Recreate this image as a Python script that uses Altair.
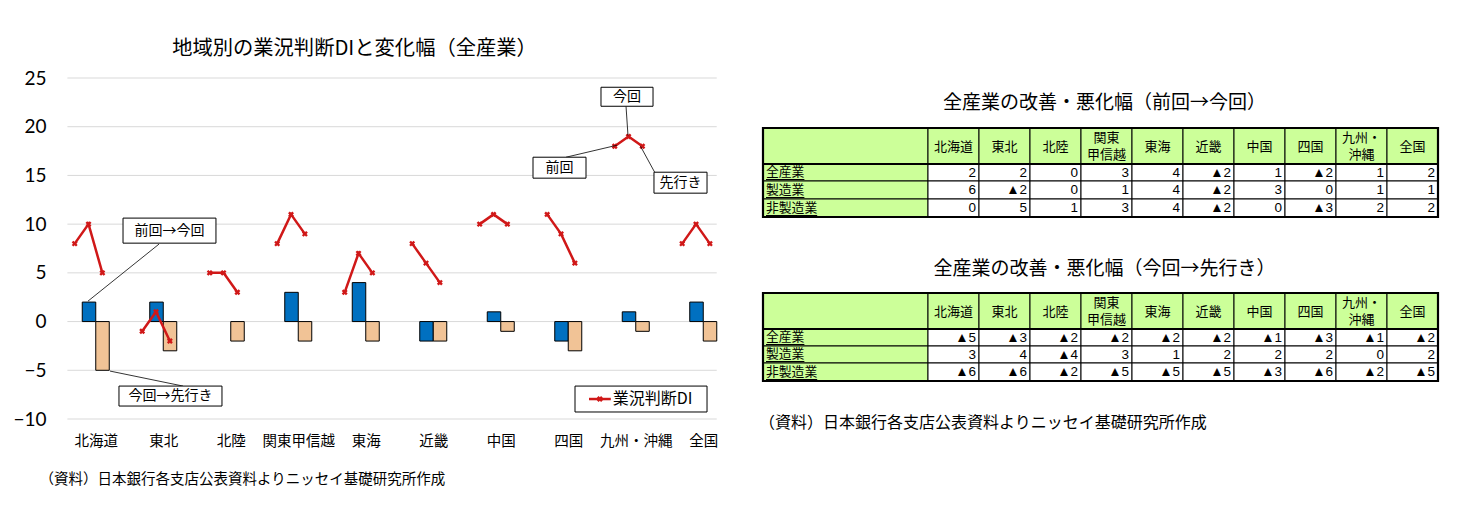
import altair as alt
import pandas as pd

# ---------------- data ----------------
regions = ["北海道", "東北", "北陸", "関東甲信越", "東海", "近畿", "中国", "四国", "九州・沖縄", "全国"]
di_prev = [8, -1, 5, 8, 3, 8, 10, 11, 18, 8]
di_now = [10, 1, 5, 11, 7, 6, 11, 9, 19, 10]
di_next = [5, -2, 3, 9, 5, 4, 10, 6, 18, 8]
chg_prev_now = [2, 2, 0, 3, 4, -2, 1, -2, 1, 2]
chg_now_next = [-5, -3, -2, -2, -2, -2, -1, -3, -1, -2]
y_ticks = [-10, -5, 0, 5, 10, 15, 20, 25]

table_cols = ["北海道", "東北", "北陸", "関東\n甲信越", "東海", "近畿", "中国", "四国", "九州・\n沖縄", "全国"]
table_rows = ["全産業", "製造業", "非製造業"]
t1_all = [2, 2, 0, 3, 4, -2, 1, -2, 1, 2]
t1_mfg = [6, -2, 0, 1, 4, -2, 3, 0, 1, 1]
t1_non = [0, 5, 1, 3, 4, -2, 0, -3, 2, 2]
t2_all = [-5, -3, -2, -2, -2, -2, -1, -3, -1, -2]
t2_mfg = [3, 4, -4, 3, 1, 2, 2, 2, 0, 2]
t2_non = [-6, -6, -2, -5, -5, -5, -3, -6, -2, -5]

title_left = "地域別の業況判断DIと変化幅（全産業）"
title_t1 = "全産業の改善・悪化幅（前回→今回）"
title_t2 = "全産業の改善・悪化幅（今回→先行き）"
source_note = "（資料）日本銀行各支店公表資料よりニッセイ基礎研究所作成"
legend_label = "業況判断DI"

JP = "Noto Sans CJK JP"
RED = "#D01818"
BLUE = "#0070C0"
ORANGE = "#F1C396"
GREEN = "#CCFF99"

# ---------------- left chart ----------------
LW, LH = 675, 341
n = len(regions)
label_expr = "[" + ",".join("'%s'" % r for r in regions) + "][datum.value]"

xs = alt.Scale(domain=[-0.5, n - 0.5], nice=False, zero=False)
ys = alt.Scale(domain=[-10, 25], nice=False, zero=False)
x_axis = alt.Axis(values=list(range(n)), labelExpr=label_expr, ticks=False, domain=False, grid=False,
                  labelFont=JP, labelFontSize=14.5, labelColor="#000", labelPadding=15,
                  title=source_note, titleFont=JP, titleFontSize=14.5, titleFontWeight="normal",
                  titleColor="#000", titleX=-23, titleY=60, titleAlign="left", titleBaseline="middle")
y_axis = alt.Axis(values=y_ticks, ticks=False, domain=False, grid=False, labelFont="Lato",
                  labelFontSize=19, labelColor="#000", labelPadding=16, title=None)


def X(f="x"):
    return alt.X(f + ":Q", scale=xs, axis=x_axis)


def Y(f="y"):
    return alt.Y(f + ":Q", scale=ys, axis=y_axis)


grid_df = pd.DataFrame({"y": y_ticks, "x": -0.42, "x2": 9.2})
grid = alt.Chart(grid_df).mark_rule(color="#D9D9D9", strokeWidth=1).encode(
    x=X(), x2="x2:Q", y=Y())

bar_w = 0.2
blue_df = pd.DataFrame({"x": [i - bar_w for i in range(n)], "x2": list(range(n)),
                        "y": 0, "y2": chg_prev_now})
orange_df = pd.DataFrame({"x": list(range(n)), "x2": [i + bar_w for i in range(n)],
                          "y": 0, "y2": chg_now_next})
blue_df = blue_df[blue_df["y2"] != 0]
bars_b = alt.Chart(blue_df).mark_rect(fill=BLUE, stroke="#000", strokeWidth=1).encode(
    x=X(), x2="x2:Q", y=Y(), y2="y2:Q")
bars_o = alt.Chart(orange_df).mark_rect(fill=ORANGE, stroke="#000", strokeWidth=1).encode(
    x=X(), x2="x2:Q", y=Y(), y2="y2:Q")

rows = []
for i, r in enumerate(regions):
    for k, v in zip((-1, 0, 1), (di_prev[i], di_now[i], di_next[i])):
        rows.append({"region": r, "x": i - 0.107 + 0.205 * k, "y": v, "k": k})
line_df = pd.DataFrame(rows)
line = alt.Chart(line_df).mark_line(color=RED, strokeWidth=2.5).encode(
    x=X(), y=Y(), detail="region:N", order="k:Q")
pts = alt.Chart(line_df).mark_point(shape="cross", angle=45, size=36, filled=True,
                                     color=RED, opacity=1).encode(x=X(), y=Y())

# callouts (positions in data units)
boxes = pd.DataFrame({
    "x": [0.404, 0.344, 7.485, 6.478, 8.27],
    "x2": [1.781, 1.87, 8.256, 7.263, 9.056],
    "y": [10.62, -6.62, 24.05, 16.87, 15.33],
    "y2": [8.05, -8.67, 22.1, 14.72, 13.18],
    "t": ["前回→今回", "今回→先行き", "今回", "前回", "先行き"],
})
boxes["cx"] = (boxes["x"] + boxes["x2"]) / 2
boxes["cy"] = (boxes["y"] + boxes["y2"]) / 2
leaders = pd.DataFrame({
    "x": [0.937, 0.211, 7.856, 6.967, 8.07],
    "y": [7.95, -5.08, 22.1, 16.87, 18.0],
    "x2": [-0.115, 1.293, 7.885, 7.722, 8.28],
    "y2": [2.1, -6.62, 19.1, 18.1, 15.33],
})
lead = alt.Chart(leaders).mark_rule(color="#000", strokeWidth=0.8).encode(
    x=X(), y=Y(), x2="x2:Q", y2="y2:Q")
box = alt.Chart(boxes).mark_rect(fill="white", stroke="#000", strokeWidth=1).encode(
    x=X(), x2="x2:Q", y=Y(), y2="y2:Q")
box_t = alt.Chart(boxes).mark_text(font=JP, fontSize=14, color="#000", baseline="middle").encode(
    x=X("cx"), y=Y("cy"), text="t:N")

# legend
leg_box = alt.Chart(pd.DataFrame({"x": [7.1], "x2": [9.056], "y": [-6.62], "y2": [-9.28]})).mark_rect(
    fill="white", stroke="#000", strokeWidth=1).encode(x=X(), x2="x2:Q", y=Y(), y2="y2:Q")
leg_line = alt.Chart(pd.DataFrame({"x": [7.307], "x2": [7.63], "y": [-7.95]})).mark_rule(
    color=RED, strokeWidth=2.5).encode(x=X(), x2="x2:Q", y=Y())
leg_pt = alt.Chart(pd.DataFrame({"x": [7.468], "y": [-7.95]})).mark_point(
    shape="cross", angle=45, size=36, filled=True, color=RED, opacity=1).encode(x=X(), y=Y())
leg_t = alt.Chart(pd.DataFrame({"x": [7.66], "y": [-7.95], "t": [legend_label]})).mark_text(
    font=JP, fontSize=16, color="#000", align="left", baseline="middle").encode(
    x=X(), y=Y(), text="t:N")

left = alt.layer(grid, bars_b, bars_o, line, pts, lead, box, box_t, leg_box, leg_line, leg_pt, leg_t).properties(
    width=LW, height=LH,
    title=alt.TitleParams(title_left, font=JP, fontSize=20.3, fontWeight="normal", color="#000",
                          anchor="middle", dx=-45, offset=10))

# ---------------- right chart (tables) ----------------
RW, RH = 675, 361
T0 = 79   # page y of the right panel top
X0 = 763  # page x of the right panel left
label_w, col_w = 165, 51
LINE_H = 16.5

rx = alt.Scale(domain=[0, RW], nice=False, zero=False)
ry = alt.Scale(domain=[0, RH], nice=False, zero=False, reverse=True)


def PX(f="x"):
    return alt.X(f + ":Q", scale=rx, axis=None)


def PY(f="y"):
    return alt.Y(f + ":Q", scale=ry, axis=None)


def table_layers(top, header_bot, row_bots, vals, title, title_y):
    cells, htxt, rtxt, vtxt, ul = [], [], [], [], []
    edges = [top, header_bot] + row_bots
    cells.append({"x": 0, "x2": label_w, "y": top, "y2": header_bot, "f": GREEN})
    for j, c in enumerate(table_cols):
        x0 = label_w + col_w * j
        cells.append({"x": x0, "x2": x0 + col_w, "y": top, "y2": header_bot, "f": GREEN})
        parts = c.split("\n")
        cy = (top + header_bot) / 2 + 0.5
        for p_i, part in enumerate(parts):
            off = (p_i - (len(parts) - 1) / 2) * LINE_H
            htxt.append({"x": x0 + col_w / 2, "y": cy + off, "t": part})
    for r, name in enumerate(table_rows):
        y0, y1 = edges[r + 1], edges[r + 2]
        cells.append({"x": 0, "x2": label_w, "y": y0, "y2": y1, "f": GREEN})
        rtxt.append({"x": 3, "y": (y0 + y1) / 2 - 0.5, "t": name})
        ul.append({"x": 3, "x2": 3 + 12.8 * len(name), "y": y1 - 1.5})
        for j, v in enumerate(vals[r]):
            x0 = label_w + col_w * j
            cells.append({"x": x0, "x2": x0 + col_w, "y": y0, "y2": y1, "f": "white"})
            vtxt.append({"x": x0 + col_w - 3, "y": (y0 + y1) / 2,
                         "t": ("▲%d" % abs(v)) if v < 0 else str(v)})
    return [
        alt.Chart(pd.DataFrame(cells)).mark_rect(stroke="#000", strokeWidth=1).encode(
            x=PX(), x2="x2:Q", y=PY(), y2="y2:Q", fill=alt.Fill("f:N", scale=None)),
        alt.Chart(pd.DataFrame([{"x": 0, "x2": RW, "y": top, "y2": edges[-1]}])).mark_rect(
            fill=None, fillOpacity=0, stroke="#000", strokeWidth=2.2).encode(
            x=PX(), x2="x2:Q", y=PY(), y2="y2:Q"),
        alt.Chart(pd.DataFrame([{"x": 0, "x2": RW, "y": header_bot}])).mark_rule(
            color="#000", strokeWidth=2).encode(x=PX(), x2="x2:Q", y=PY()),
        alt.Chart(pd.DataFrame(ul)).mark_rule(color="#000", strokeWidth=1).encode(
            x=PX(), x2="x2:Q", y=PY()),
        alt.Chart(pd.DataFrame(htxt)).mark_text(font=JP, fontSize=13, color="#000",
                                                baseline="middle").encode(
            x=PX(), y=PY(), text="t:N"),
        alt.Chart(pd.DataFrame(rtxt)).mark_text(font=JP, fontSize=12.8, color="#000", align="left",
                                                baseline="middle").encode(x=PX(), y=PY(), text="t:N"),
        alt.Chart(pd.DataFrame(vtxt)).mark_text(font="Liberation Sans", fontSize=13.5, color="#000",
                                                align="right", baseline="middle").encode(
            x=PX(), y=PY(), text="t:N"),
        alt.Chart(pd.DataFrame([{"x": RW / 2 + 4, "y": title_y, "t": title}])).mark_text(
            font=JP, fontSize=19, color="#000", baseline="middle").encode(x=PX(), y=PY(), text="t:N"),
    ]


L1 = table_layers(129 - T0, 165 - T0, [182 - T0, 200 - T0, 218 - T0],
                  [t1_all, t1_mfg, t1_non], title_t1, 104 - T0)
L2 = table_layers(294 - T0, 330 - T0, [347 - T0, 364 - T0, 382 - T0],
                  [t2_all, t2_mfg, t2_non], title_t2, 270 - T0)
note_r = alt.Chart(pd.DataFrame([{"x": -4, "y": 424 - T0, "t": source_note}])).mark_text(
    font=JP, fontSize=16, color="#000", align="left", baseline="middle").encode(
    x=PX(), y=PY(), text="t:N")

right = alt.layer(*L1, *L2, note_r).properties(width=RW, height=RH)

chart = alt.hconcat(left, right, spacing=22).properties(
    padding={"left": 4, "top": 30, "right": 0, "bottom": 0}, background="white"
).configure_view(stroke=None)

chart.save("out.html", embed_options={"renderer": "svg", "actions": False})
